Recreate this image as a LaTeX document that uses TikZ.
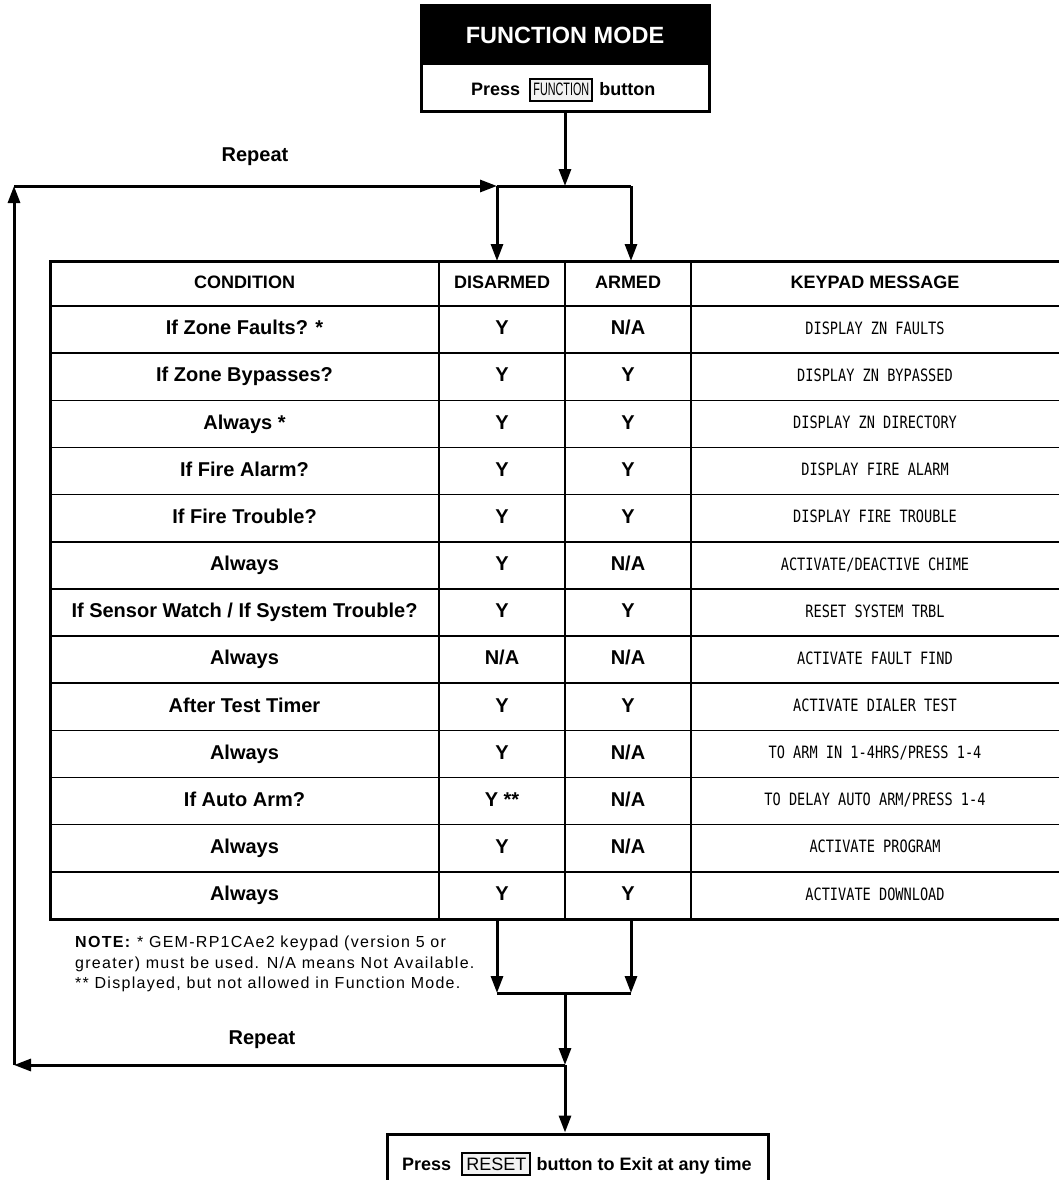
\documentclass[tikz,border=0pt]{standalone}
\usepackage{fontspec}
\setmainfont{Liberation Sans}
\newfontfamily\lcdfont{DejaVu Sans Mono}
\newfontfamily\notefont[LetterSpace=8]{Liberation Sans}
\usetikzlibrary{arrows.meta,positioning}

\tikzset{
  flow/.style={line width=3pt,-{Triangle[length=17pt,width=12pt]}},
  joint/.style={line width=3pt},
  hdrbox/.style={fill=black,draw=black,line width=3pt,text=white,
    font=\fontsize{23.5}{28}\selectfont\bfseries,minimum width=288pt,minimum height=58pt},
  pressbox/.style={draw,line width=3pt,fill=white,minimum width=288pt,minimum height=48pt},
  keybtn/.style={draw,line width=2pt,fill=gray!10,inner xsep=3pt,inner ysep=4.5pt,
    font=\fontsize{18}{20}\selectfont},
  btntext/.style={font=\fontsize{18}{21}\selectfont\bfseries,inner sep=0pt},
  hcell/.style={font=\fontsize{18}{21}\selectfont\bfseries,text height=13pt,text depth=4pt},
  cell/.style={font=\fontsize{20}{24}\selectfont\bfseries,text height=14.5pt,text depth=4pt},
  lcd/.style={font=\fontsize{17}{20}\lcdfont,text height=12.5pt,text depth=3pt},
  lbl/.style={font=\fontsize{20}{24}\selectfont\bfseries}
}

\begin{document}
\begin{tikzpicture}[x=1pt,y=-1pt]
  \useasboundingbox (0,0) rectangle (1058,1180);

  % Function mode entry
  \node[hdrbox] (fmode) at (565,35) {FUNCTION MODE};
  \node[pressbox] (fpbox) at (565,88) {};
  \node[btntext,anchor=base west] (fpress) at (471,96) {Press};
  \node[keybtn,base right=9pt of fpress] (fkey) {\scalebox{0.6}[1]{FUNCTION}};
  \node[btntext,base right=6pt of fkey] (fbutton) {button};

  % junctions
  \coordinate (jtop) at (565,186);
  \coordinate (jl) at (497,186);
  \coordinate (jr) at (631,186);
  \coordinate (cnw) at (14,186);
  \coordinate (csw) at (14,1065);
  \coordinate (jbot) at (565,1065);
  \coordinate (ml) at (497,993);
  \coordinate (mr) at (631,993);
  \coordinate (mmid) at (565,993);
  \coordinate (tl) at (497,261);
  \coordinate (tr) at (631,261);
  \coordinate (bl) at (497,919);
  \coordinate (br) at (631,919);

  % Table
  \draw[line width=1.5pt] (50,306) -- (1060,306);
  \foreach \r in {1,...,12}
    \draw[line width=1.5pt] (50,306+47.15*\r) -- (1060,306+47.15*\r);
  \foreach \x in {439,565,691}
    \draw[line width=2.5pt] (\x,261) -- (\x,919);
  \draw[line width=3pt] (50,261) rectangle (1060,919);

  \node[hcell] (hcond) at (244.5,283.5) {CONDITION};
  \node[hcell] (hdis) at (502,283.5) {DISARMED};
  \node[hcell] (harm) at (628,283.5) {ARMED};
  \node[hcell] (hmsg) at (875,283.5) {KEYPAD MESSAGE};

  \foreach \cond/\dis/\arm/\msg [count=\i, evaluate=\i as \y using 306+47.15*(\i-0.5)] in {
      {If Zone Faults? *}/Y/{N/A}/{DISPLAY ZN FAULTS},
      {If Zone Bypasses?}/Y/Y/{DISPLAY ZN BYPASSED},
      {Always *}/Y/Y/{DISPLAY ZN DIRECTORY},
      {If Fire Alarm?}/Y/Y/{DISPLAY FIRE ALARM},
      {If Fire Trouble?}/Y/Y/{DISPLAY FIRE TROUBLE},
      {Always}/Y/{N/A}/{ACTIVATE/DEACTIVE CHIME},
      {If Sensor Watch / If System Trouble?}/Y/Y/{RESET SYSTEM TRBL},
      {Always}/{N/A}/{N/A}/{ACTIVATE FAULT FIND},
      {After Test Timer}/Y/Y/{ACTIVATE DIALER TEST},
      {Always}/Y/{N/A}/{TO ARM IN 1-4HRS/PRESS 1-4},
      {If Auto Arm?}/{Y **}/{N/A}/{TO DELAY AUTO ARM/PRESS 1-4},
      {Always}/Y/{N/A}/{ACTIVATE PROGRAM},
      {Always}/Y/Y/{ACTIVATE DOWNLOAD}} {
    \node[cell] (cond\i) at (244.5,\y) {\cond};
    \node[cell] (dis\i) at (502,\y) {\dis};
    \node[cell] (arm\i) at (628,\y) {\arm};
    \node[lcd] (msg\i) at (875,\y) {\scalebox{0.8}[1]{\msg}};
  }

  % Note
  \node[anchor=north west,align=left,inner sep=0pt,
        font=\fontsize{16}{20.5}\notefont] (note) at (75,936)
    {\textbf{NOTE:} * GEM-RP1CAe2 keypad (version 5 or\\
     greater) must be used. N/A means Not Available.\\
     ** Displayed, but not allowed in Function Mode.};

  % Repeat labels
  \node[lbl] (rep1) at (255,157) {Repeat};
  \node[lbl] (rep2) at (262,1040) {Repeat};

  % Reset exit
  \node[draw,line width=3pt,minimum width=381pt,minimum height=58pt] (rstbox) at (577.5,1163) {};
  \node[btntext,anchor=base west] (rpress) at (402,1170) {Press};
  \node[keybtn,inner xsep=4pt,base right=10pt of rpress] (rkey) {RESET};
  \node[btntext,base right=5pt of rkey] (rbutton) {button to Exit at any time};

  % Flow lines
  \draw[flow] (fpbox) -- (jtop);
  \draw[flow] (cnw) -- (jl);
  \draw[joint] (jl) -- (jr);
  \draw[flow] (jl) -- (tl);
  \draw[flow] (jr) -- (tr);
  \draw[flow] (bl) -- (ml);
  \draw[flow] (br) -- (mr);
  \draw[joint] (ml) -- (mr);
  \draw[flow] (mmid) -- (jbot);
  \draw[flow] (jbot) -- (csw);
  \draw[flow] (csw) -- (cnw);
  \draw[flow] (jbot) -- (jbot |- rstbox.north);
\end{tikzpicture}
\end{document}
